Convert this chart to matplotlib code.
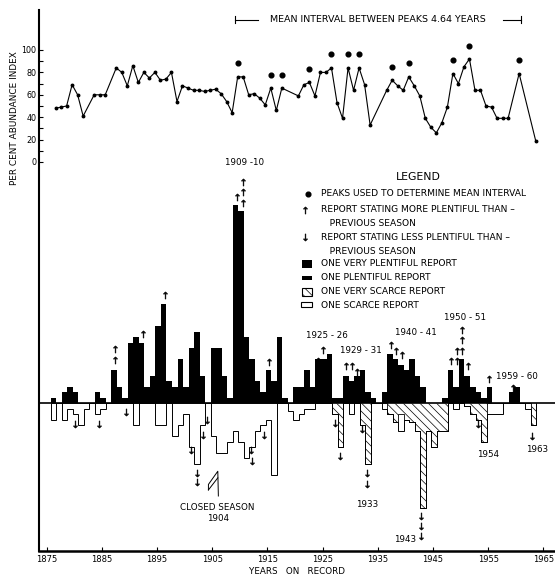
import numpy as np
import matplotlib.pyplot as plt
from matplotlib.patches import Rectangle

plt.rcParams['hatch.linewidth'] = 0.5

# per cent abundance index, one point per season
idx_years = [1876, 1877, 1878, 1879, 1880, 1881, 1883, 1884, 1885, 1887,
             1888, 1889, 1890, 1891, 1892, 1893, 1894, 1895, 1896, 1897,
             1898, 1899, 1900, 1901, 1902, 1903, 1904, 1905, 1906, 1907,
             1908, 1909, 1910, 1911, 1912, 1913, 1914, 1915, 1916, 1917,
             1920, 1921, 1922, 1923, 1924, 1925, 1926, 1927, 1928, 1929,
             1930, 1931, 1932, 1933, 1936, 1937, 1938, 1939, 1940, 1941,
             1942, 1943, 1944, 1945, 1946, 1947, 1948, 1949, 1950, 1951,
             1952, 1953, 1954, 1955, 1956, 1957, 1958, 1960, 1963]
idx_values = [48, 49, 50, 69, 60, 41, 60, 60, 60, 84,
              80, 68, 86, 71, 80, 75, 80, 73, 74, 80,
              54, 68, 66, 64, 64, 63, 64, 65, 61, 54,
              44, 76, 76, 60, 61, 57, 51, 66, 46, 66,
              59, 69, 71, 59, 80, 80, 84, 53, 39, 84,
              64, 84, 69, 33, 64, 73, 68, 64, 76, 68,
              59, 39, 31, 26, 35, 49, 79, 70, 85, 92,
              64, 64, 50, 49, 39, 39, 39, 79, 19]

# peaks used for the mean interval
peak_years = [1909, 1915, 1917, 1922, 1926, 1929, 1931, 1937, 1940, 1948, 1951, 1960]

# report bars, one value per season 1876-1963
bar_years = np.arange(1876, 1964)
plentiful = [1, 0, 2, 3, 2, 0, 0, 0, 2, 1,        # 1876-1885
             0, 6, 3, 1, 11, 12, 11, 3, 5, 14,     # 1886-1895
             18, 4, 3, 8, 3, 10, 13, 5, 0, 10,     # 1896-1905
             10, 5, 1, 36, 35, 12, 8, 4, 2, 6,     # 1906-1915
             4, 12, 1, 0, 3, 3, 6, 3, 8, 8,        # 1916-1925
             9, 1, 1, 5, 4, 5, 6, 2, 1, 0,         # 1926-1935
             2, 9, 8, 7, 6, 8, 5, 3, 0, 0,         # 1936-1945
             0, 1, 6, 3, 8, 5, 3, 2, 1, 3,         # 1946-1955
             0, 0, 0, 2, 3, 0, 0, 0]               # 1956-1963
scarce = [3, 0, 3, 1, 2, 4, 1, 0, 2, 1,
          0, 0, 0, 0, 0, 4, 0, 0, 0, 4,
          4, 0, 6, 4, 2, 8, 11, 4, 0, 6,
          9, 9, 7, 5, 7, 10, 8, 5, 4, 3,
          13, 0, 0, 1.5, 3, 2, 1, 1, 0, 0,
          0, 0, 0, 0, 2, 0, 0, 0, 0, 0,
          1, 0, 0, 3, 0, 0, 0, 0, 0, 0,
          0, 0, 0, 1, 0, 0, 0, 0, 0, 2,
          2, 2, 0, 0, 0, 0, 1, 0]
very_scarce = [0, 0, 0, 0, 0, 0, 0, 0, 0, 0,
               0, 0, 0, 0, 0, 0, 0, 0, 0, 0,
               0, 0, 0, 0, 0, 0, 0, 0, 0, 0,
               0, 0, 0, 0, 0, 0, 0, 0, 0, 0,
               0, 0, 0, 0, 0, 0, 0, 0, 0, 0,
               0, 2, 8, 0, 0, 0, 4, 11, 0, 0,
               0, 2, 3.5, 2, 3, 3.5, 5, 19, 5, 8,
               5, 5, 0, 0, 0, 0.5, 2, 3, 7, 0,
               0, 0, 0, 0, 0, 0, 0, 4]

# arrows: reports of more / less plentiful than previous season
more_x = [1887.4, 1887.4, 1892.5, 1896.4, 1909.5, 1910.5, 1910.5, 1910.5,
          1915.3, 1924.2, 1925.1, 1929.2, 1930.3, 1931.3, 1937.3, 1938.3,
          1939.3, 1948.3, 1949.3, 1949.3, 1950.3, 1950.3, 1950.3, 1951.4,
          1955.2, 1959.4]
more_y = [9.9, 7.8, 12.6, 19.6, 37.5, 36.4, 38.4, 40.2,
          7.5, 7.6, 9.6, 6.7, 6.7, 5.6, 10.6, 9.4,
          8.8, 7.6, 7.6, 9.4, 9.4, 11.4, 13.3, 6.7,
          4.4, 2.7]
less_x = [1880.2, 1884.4, 1889.4, 1901.2, 1902.2, 1902.2, 1903.4, 1904.1,
          1912.1, 1912.2, 1914.3, 1927.2, 1928.1, 1932.2, 1933.1, 1933.1,
          1942.9, 1942.9, 1942.9, 1953.1, 1963.0]
less_y = [-3.8, -3.8, -1.6, -8.5, -12.7, -14.4, -5.9, -3.1,
          -8.5, -10.5, -5.8, -3.6, -9.6, -4.7, -12.8, -14.7,
          -20.6, -22.4, -24.1, -3.9, -6.0]

season_labels = ['1909 -10', '1925 - 26', '1929 - 31', '1940 - 41', '1950 - 51',
                 '1959 - 60', '1954', '1963', '1933']
season_label_x = [1910.9, 1925.7, 1932.0, 1941.8, 1950.8, 1960.2, 1954.9, 1963.9, 1933.0]
season_label_y = [43.8, 12.2, 9.5, 12.9, 15.5, 4.8, -9.3, -8.5, -18.4]

W, H = 555, 577
fig = plt.figure(figsize=(W / 100, H / 100), dpi=100)
fs = 6.3
arrow_kw = dict(s=26, color='black', edgecolors='black', linewidths=0.35)

# report bars
ax = fig.add_axes([39 / W, 26 / H, (W - 39) / W, 541 / H])
ax.set_xlim(1873.6, 1967.1)
ax.set_ylim(-26.9, 71.45)
edges = np.append(bar_years, bar_years[-1] + 1) - 0.3
vs = -np.array(very_scarce, dtype=float)
low = vs - np.array(scarce, dtype=float)
ax.stairs(plentiful, edges, baseline=0, fill=True, color='black', lw=0)
ax.stairs(vs, edges, baseline=0, fill=True, facecolor='white',
          edgecolor='black', hatch='\\\\\\\\', lw=0.6)
ax.stairs(low, edges, baseline=0, fill=False, color='black', lw=0.7)
ax.axhline(0, color='black', lw=1.2)

ax.scatter(more_x, more_y, marker=r'$\uparrow$', **arrow_kw)
ax.scatter(less_x, less_y, marker=r'$\downarrow$', **arrow_kw)

for t, x, y in zip(season_labels, season_label_x, season_label_y):
    ax.text(x, y, t, fontsize=fs, ha='center', va='center')
ax.text(1941.9, -24.8, '1943', fontsize=fs, ha='right', va='center')
ax.text(1905.8, -19.0, 'CLOSED SEASON', fontsize=fs, ha='center', va='center')
ax.text(1906.0, -21.0, '1904', fontsize=fs, ha='center', va='center')
ax.plot([1904.3, 1904.3, 1906.0, 1906.1], [-15.8, -14.8, -12.4, -16.9], color='black', lw=0.7)
ax.plot([1904.3, 1906.0], [-15.8, -13.6], color='black', lw=0.7)

for s in ['top', 'right']:
    ax.spines[s].set_visible(False)
ax.spines['left'].set_linewidth(1.5)
ax.spines['bottom'].set_linewidth(1.8)
ax.set_yticks([])
ax.set_xticks(range(1875, 1966, 10))
ax.tick_params(axis='x', direction='in', length=3, width=0.8, labelsize=6, pad=3)
ax.set_xlabel('YEARS   ON   RECORD', fontsize=fs, labelpad=2)

# abundance index line
ax2 = fig.add_axes(ax.get_position())
ax2.patch.set_visible(False)
for s in ax2.spines.values():
    s.set_visible(False)
ax2.set_xlim(ax.get_xlim())
ax2.set_ylim(-347.3, 135.7)
ax2.set_xticks([])
ax2.set_yticks(range(0, 101, 20))
ax2.set_yticks(range(10, 100, 20), minor=True)
ax2.tick_params(axis='y', which='both', direction='in', length=3, width=0.8,
                labelsize=5.8, pad=2)
ix = np.array(idx_years) + 0.6
ax2.plot(ix, idx_values, '-', color='black', lw=0.8, marker='o', ms=1.8)
pv = [idx_values[idx_years.index(y)] + 12 for y in peak_years]
ax2.plot(np.array(peak_years) + 0.6, pv, 'o', color='black', ms=3.4)

# mean interval bracket spanning the first and last peak
x0, x1 = peak_years[0] + 0.2, peak_years[-1] + 0.9
ax2.plot([x0, x0], [124, 130], color='black', lw=0.8)
ax2.plot([x1, x1], [124, 130], color='black', lw=0.8)
ax2.plot([x0, 1913.3], [127, 127], color='black', lw=0.8)
ax2.plot([1957.6, x1], [127, 127], color='black', lw=0.8)
ax2.text((x0 + x1) / 2, 127, 'MEAN INTERVAL BETWEEN PEAKS 4.64 YEARS',
         fontsize=6.8, ha='center', va='center')
fig.text(15 / W, 1 - 118 / H, 'PER CENT ABUNDANCE INDEX', fontsize=6.4,
         rotation=90, ha='center', va='center')

# legend
lay = fig.add_axes([0, 0, 1, 1])
lay.set_xlim(0, W)
lay.set_ylim(H, 0)
lay.axis('off')
lay.text(418, 177, 'LEGEND', fontsize=7.8, ha='center', va='center')
rows = [(194, 'PEAKS USED TO DETERMINE MEAN INTERVAL'),
        (210, 'REPORT STATING MORE PLENTIFUL THAN \u2013'),
        (223, '   PREVIOUS SEASON'),
        (237, 'REPORT STATING LESS PLENTIFUL THAN \u2013'),
        (251, '   PREVIOUS SEASON'),
        (264, 'ONE VERY PLENTIFUL REPORT'),
        (278, 'ONE PLENTIFUL REPORT'),
        (292, 'ONE VERY SCARCE REPORT'),
        (305, 'ONE SCARCE REPORT')]
for y, t in rows:
    lay.text(321, y, t, fontsize=6.6, ha='left', va='center')
lay.plot(308, 194, 'o', color='black', ms=3.4)
lay.scatter([305], [210], marker=r'$\uparrow$', **arrow_kw)
lay.scatter([305], [237], marker=r'$\downarrow$', **arrow_kw)
lay.add_patch(Rectangle((302, 260), 10, 8, facecolor='black'))
lay.add_patch(Rectangle((302, 276), 10, 4, facecolor='black'))
lay.add_patch(Rectangle((302, 288), 10, 8, facecolor='white', edgecolor='black',
                        hatch='\\\\\\\\', lw=0.8))
lay.add_patch(Rectangle((301, 302), 11, 5, facecolor='white', edgecolor='black', lw=0.8))

fig.savefig('out.png', dpi=100, facecolor='white')
